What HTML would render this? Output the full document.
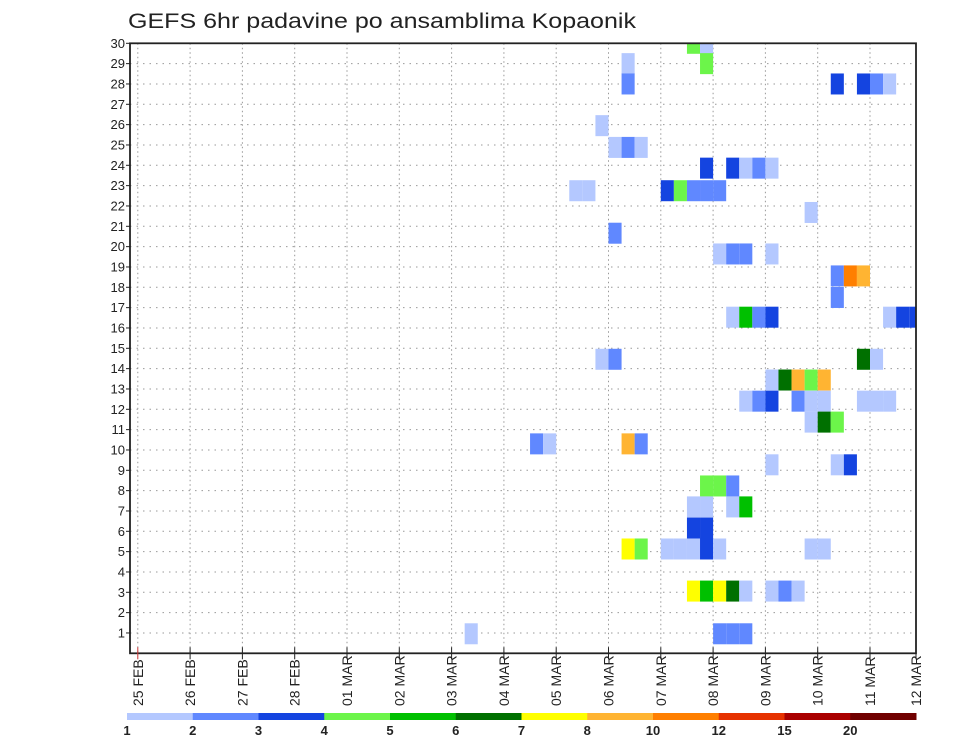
<!DOCTYPE html>
<html><head><meta charset="utf-8"><style>
body{margin:0;background:#fff;}
svg{display:block;font-family:"Liberation Sans",sans-serif;}
</style></head><body>
<svg id="chart" width="960" height="742">
<text x="128" y="28" font-size="21" fill="#222" textLength="508" lengthAdjust="spacingAndGlyphs">GEFS 6hr padavine po ansamblima Kopaonik</text>
<g id="grid"></g>
<g id="cells"></g>
<g id="axes"></g>
<g id="legend"></g>
</svg>
<script>
const dayLabels=["25 FEB","26 FEB","27 FEB","28 FEB","01 MAR","02 MAR","03 MAR","04 MAR","05 MAR","06 MAR","07 MAR","08 MAR","09 MAR","10 MAR","11 MAR","12 MAR"];
const memberTicks=[1,2,3,4,5,6,7,8,9,10,11,12,13,14,15,16,17,18,19,20,21,22,23,24,25,26,27,28,29,30];
const levels=[1,2,3,4,5,6,7,8,10,12,15,20];
const levelColors=["#b4c8ff","#6088ff","#1444e0","#6cf54a","#00c000","#007000","#ffff00","#ffb432","#ff7f00","#e63200","#aa0000","#700000"];
const cellStep=[42,43, 37,43, 37,53,55,56,57, 35, 36,37,38, 43,45,46,47,48, 33,34,40,41,42,43,44, 51, 36, 44,45,46,48, 53,54,55, 53, 45,46,47,48,57,58,59,
 35,36,55,56, 48,49,50,51,52, 46,47,48,50,51,52,55,56,57, 51,52,53, 30,31,37,38, 48,53,54, 43,44,45, 42,43,45,46, 42,43, 37,38,40,41,42,43,44,51,52, 42,43,44,45,46,48,49,50, 25,44,45,46];
const cellMember=[30,30, 29,29, 28,28,28,28,28, 25.95, 24.88,24.88,24.88, 23.86,23.86,23.86,23.86,23.86, 22.75,22.75,22.75,22.75,22.75,22.75,22.75, 21.68, 20.66, 19.64,19.64,19.64,19.64, 18.56,18.56,18.56, 17.5, 16.53,16.53,16.53,16.53,16.53,16.53,16.53,
 14.46,14.46,14.46,14.46, 13.44,13.44,13.44,13.44,13.44, 12.4,12.4,12.4,12.4,12.4,12.4,12.4,12.4,12.4, 11.37,11.37,11.37, 10.3,10.3,10.3,10.3, 9.27,9.27,9.27, 8.23,8.23,8.23, 7.2,7.2,7.2,7.2, 6.16,6.16, 5.13,5.13,5.13,5.13,5.13,5.13,5.13,5.13,5.13, 3.06,3.06,3.06,3.06,3.06,3.06,3.06,3.06, 0.96,0.96,0.96,0.96];
const cellValue=[4.5,1.5, 1.5,4.5, 2.5,3.5,3.5,2.5,1.5, 1.5, 1.5,2.5,1.5, 3.5,3.5,1.5,2.5,1.5, 1.5,1.5,3.5,4.5,2.5,2.5,2.5, 1.5, 2.5, 1.5,2.5,2.5,1.5, 2.5,11,9, 2.5, 1.5,5.5,2.5,3.5,1.5,3.5,3.5,
 1.5,2.5,6.5,1.5, 1.5,6.5,9,4.5,9, 1.5,2.5,3.5,2.5,1.5,1.5,1.5,1.5,1.5, 1.5,6.5,4.5, 2.5,1.5,9,2.5, 1.5,1.5,3.5, 4.5,4.5,2.5, 1.5,1.5,1.5,5.5, 3.5,3.5, 7.5,4.5,1.5,1.5,1.5,3.5,1.5,1.5,1.5, 7.5,5.5,7.5,6.5,1.5,1.5,2.5,1.5, 1.5,2.5,2.5,2.5];

const NS="http://www.w3.org/2000/svg";
const L=130,R=916,T=43.3,B=653.3,X0=137.8,DAY=52.3;
const xs=step=>X0+step*DAY/4;
const ys=m=>B-m*(B-T)/30;
function mk(tag,attrs,parent){const e=document.createElementNS(NS,tag);for(const k in attrs)e.setAttribute(k,attrs[k]);parent.appendChild(e);return e;}
function colorFor(v){let i=0;for(let k=0;k<levels.length;k++){if(v>=levels[k])i=k;}return levelColors[i];}
const grid=document.getElementById('grid'),cells=document.getElementById('cells'),axes=document.getElementById('axes'),legend=document.getElementById('legend');
const defs=mk('defs',{},document.getElementById('chart'));
const cp=mk('clipPath',{id:'pc'},defs);mk('rect',{x:L,y:T,width:R-L,height:B-T},cp);
cells.setAttribute('clip-path','url(#pc)');
memberTicks.forEach(m=>{
 const g=mk('line',{x1:L,x2:R,y1:ys(m),y2:ys(m),stroke:'#999','stroke-width':1,'stroke-dasharray':'1.5,5'},grid);
 
 
});
dayLabels.forEach((d,i)=>{
 const x=xs(i*4);if(x>R)return;
 const g=mk('line',{x1:x,x2:x,y1:T,y2:B,stroke:'#999','stroke-width':1,'stroke-dasharray':'1.5,3'},grid);
 
 
});
const cw=DAY/4,ch=21;
for(let i=0;i<cellStep.length;i++){
 const r=mk('rect',{x:xs(cellStep[i]),y:ys(cellMember[i])-ch/2,width:cw,height:ch,fill:colorFor(cellValue[i])},cells);
 
 
}
const fr=mk('rect',{x:L,y:T,width:R-L,height:B-T,fill:'none',stroke:'#222','stroke-width':1.8},axes);


memberTicks.forEach(m=>{
 mk('line',{x1:L-4,x2:L,y1:ys(m),y2:ys(m),stroke:'#222'},axes);
 const t=mk('text',{x:L-5,y:ys(m)+4.5,'font-size':13,'text-anchor':'end',fill:'#222'},axes);
 t.textContent=m;
 
 
});
dayLabels.forEach((d,i)=>{
 const x=Math.min(xs(i*4),R);
 mk('line',{x1:x,x2:x,y1:B-6,y2:B+6,stroke:i==0?'#c33':'#222'},axes);
 const t=mk('text',{x:0,y:0,'font-size':14,'text-anchor':'start',fill:'#222',transform:`translate(${x+5},706) rotate(-90)`},axes);
 t.textContent=d;
 
 
});
const cbL=127,cbR=916,segW=(cbR-cbL)/levels.length;
levelColors.forEach((c,i)=>{
 const r=mk('rect',{x:cbL+i*segW,y:713,width:segW+0.5,height:7,fill:c},legend);
 
 
});
levels.forEach((v,i)=>{
 const t=mk('text',{x:cbL+i*segW,y:735,'font-size':13,'font-weight':'bold','text-anchor':'middle',fill:'#222'},legend);
 t.textContent=v;
 
 
});
</script>
</body></html>
